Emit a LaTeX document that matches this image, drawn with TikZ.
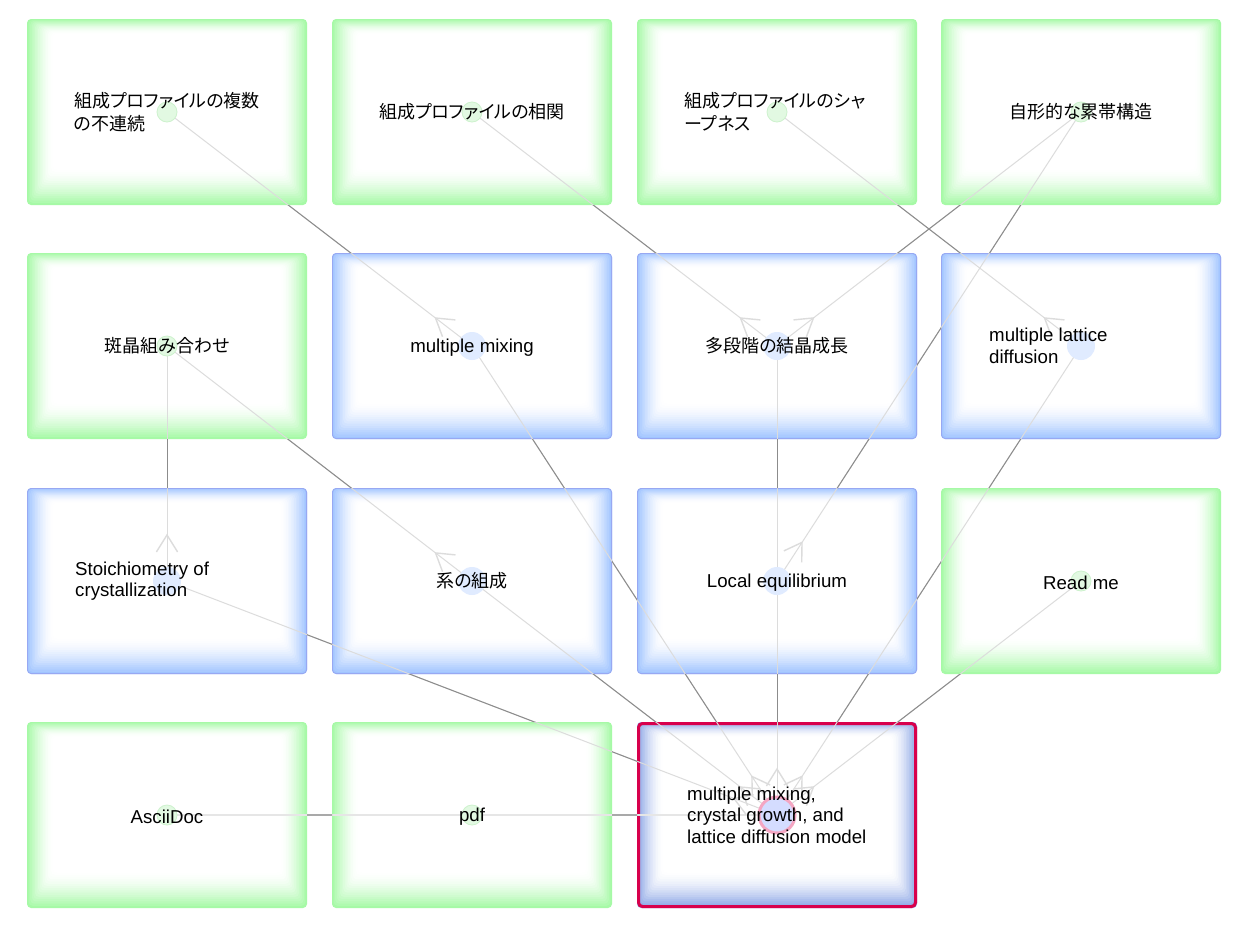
\documentclass[tikz,border=0pt]{standalone}
\usepackage{fontspec}
\setmainfont{Liberation Sans}
\newfontfamily\cjk[RawFeature=+palt]{Noto Sans CJK JP}
\usetikzlibrary{calc,arrows.meta}
\definecolor{gedge}{HTML}{A6F9A6}
\definecolor{bedge}{HTML}{A0C4FF}
\definecolor{bline}{HTML}{98A8F2}
\definecolor{medge}{HTML}{8AA4E6}
\definecolor{mred}{HTML}{D8004C}
\definecolor{lline}{HTML}{DCDCDC}
\definecolor{dline}{HTML}{8C8C8C}
\definecolor{gdot}{HTML}{E2F9E2}
\definecolor{gdotb}{HTML}{CDF2CD}
\definecolor{bdot}{HTML}{E0EBFF}
\definecolor{mring}{HTML}{F4A6C2}
\tikzset{
  box/.style={rectangle, minimum width=280pt, minimum height=186pt, inner sep=0pt, outer sep=0pt},
  lbl/.style={inner sep=0pt, font=\fontsize{18.67pt}{21.5pt}\selectfont},
  slbl/.style={lbl, yshift=-2pt},
  jlbl/.style={inner sep=0pt, font=\cjk\fontsize{18pt}{23pt}\selectfont},
  mlbl/.style={lbl, align=left, anchor=west},
  mjlbl/.style={jlbl, align=left, anchor=west},
  lightline/.style={draw=lline, line width=1pt},
  darkline/.style={draw=dline, line width=1pt},
  arrsty/.style={draw=lline, line width=1.4pt, line join=miter},
  gdotsty/.style={fill=gdot, draw=gdotb, line width=0.8pt},
  bdotsty/.style={fill=bdot},
}
\newcommand{\glowbox}[2]{%
  \fill[#2, rounded corners=4pt] (#1.north west) rectangle (#1.south east);
  \foreach \i in {1,...,16}{%
    \pgfmathtruncatemacro{\pc}{100*(1-\i/16)^1.6}%
    \pgfmathsetmacro{\dl}{\i*1.6}%
    \pgfmathsetmacro{\dt}{\i*0.9}%
    \pgfmathsetmacro{\dr}{\i*1.6}%
    \pgfmathsetmacro{\db}{\i*2.2}%
    \fill[#2!\pc!white, rounded corners=4pt] ([xshift=\dl pt, yshift=-\dt pt]#1.north west) rectangle ([xshift=-\dr pt, yshift=\db pt]#1.south east);
  }%
}
\begin{document}
\begin{tikzpicture}[x=1pt,y=-1pt]
\useasboundingbox (0,0) rectangle (1234,932);
\fill[white] (0,0) rectangle (1234,932);
% boxes
\node[box] (a1) at (167,112) {};
\node[box] (a2) at (472,112) {};
\node[box] (a3) at (777,112) {};
\node[box] (a4) at (1081,112) {};
\node[box] (b1) at (167,346) {};
\node[box] (mm) at (472,346) {};
\node[box] (ms) at (777,346) {};
\node[box] (mld) at (1081,346) {};
\node[box] (st) at (167,581) {};
\node[box] (sc) at (472,581) {};
\node[box] (le) at (777,581) {};
\node[box] (rm) at (1081,581) {};
\node[box] (asc) at (167,815) {};
\node[box] (pdf) at (472,815) {};
\node[box] (main) at (777,815) {};
\foreach \n in {a1,a2,a3,a4,b1,rm,asc,pdf}{\glowbox{\n}{gedge}}
\foreach \n in {mm,ms,mld,st,sc,le}{\glowbox{\n}{bedge}
  \draw[bline, line width=0.8pt, rounded corners=4pt] ([xshift=0.4pt,yshift=-0.4pt]\n.north west) rectangle ([xshift=-0.4pt,yshift=0.4pt]\n.south east);}
\glowbox{main}{medge}
\draw[mred, line width=3pt, rounded corners=4pt] ([xshift=1.5pt,yshift=-1.5pt]main.north west) rectangle ([xshift=-1.5pt,yshift=1.5pt]main.south east);
% connectors, light (inside boxes)
\def\edges{a1/mm,a2/ms,a3/mld,a4/ms,a4/le,b1/st,b1/sc,st/main,sc/main,mm/main,ms/main,mld/main,rm/main}
\foreach \u/\v in \edges{\draw[lightline] (\u.center) -- (\v.center);}
\draw[lightline, line width=2pt, draw=lline!70!white] (asc.center) -- (pdf.center);
\draw[lightline, line width=2pt, draw=lline!70!white] (pdf.center) -- (main.center);
% connectors, dark (between boxes)
\begin{scope}
\clip (0,205) rectangle (1234,253) (0,439) rectangle (1234,488) (0,674) rectangle (1234,722)
      (307,0) rectangle (332,932) (612,0) rectangle (637,932) (917,0) rectangle (941,932);
\foreach \u/\v in \edges{\draw[darkline] (\u.center) -- (\v.center);}
\draw[darkline, line width=2pt, draw=dline!75!white] (asc.center) -- (pdf.center);
\draw[darkline, line width=2pt, draw=dline!75!white] (pdf.center) -- (main.center);
\end{scope}
% arrowheads (open V, tip 46px from the lower node, pointing to the upper node)
\foreach \u/\v in \edges{
  \coordinate (tip) at ($(\v.center)!46pt!(\u.center)$);
  \draw[arrsty] ($(tip)!20pt!32:(\v.center)$) -- (tip) -- ($(tip)!20pt!-32:(\v.center)$);}
% dots
\foreach \n in {a1,a2,a3,a4,b1,rm,asc,pdf}{\path[gdotsty] (\n.center) circle (10pt);}
\foreach \n in {mm,ms,mld,st,sc,le}{\path[bdotsty] (\n.center) circle (14pt);}
\path[fill=bdot!90!blue!80!white, draw=mring, line width=3pt] (main.center) circle (18pt);
% labels
\node[mjlbl] (ta1) at ([xshift=-93pt]a1.center) {組成プロファイルの複数\\の不連続};
\node[jlbl] (ta2) at (a2.center) {組成プロファイルの相関};
\node[mjlbl] (ta3) at ([xshift=-93pt]a3.center) {組成プロファイルのシャ\\ープネス};
\node[jlbl] (ta4) at (a4.center) {自形的な累帯構造};
\node[jlbl] (tb1) at (b1.center) {斑晶組み合わせ};
\node[slbl] (tmm) at (mm.center) {multiple mixing};
\node[jlbl] (tms) at (ms.center) {多段階の結晶成長};
\node[mlbl] (tmld) at ([xshift=-92pt]mld.center) {multiple lattice\\diffusion};
\node[mlbl] (tst) at ([xshift=-92pt]st.center) {Stoichiometry of\\crystallization};
\node[jlbl] (tsc) at (sc.center) {系の組成};
\node[slbl] (tle) at (le.center) {Local equilibrium};
\node[slbl] (trm) at (rm.center) {Read me};
\node[slbl] (tasc) at (asc.center) {AsciiDoc};
\node[slbl] (tpdf) at (pdf.center) {pdf};
\node[mlbl] (tmain) at ([xshift=-90pt]main.center) {multiple mixing,\\crystal growth, and\\lattice diffusion model};
\end{tikzpicture}
\end{document}
